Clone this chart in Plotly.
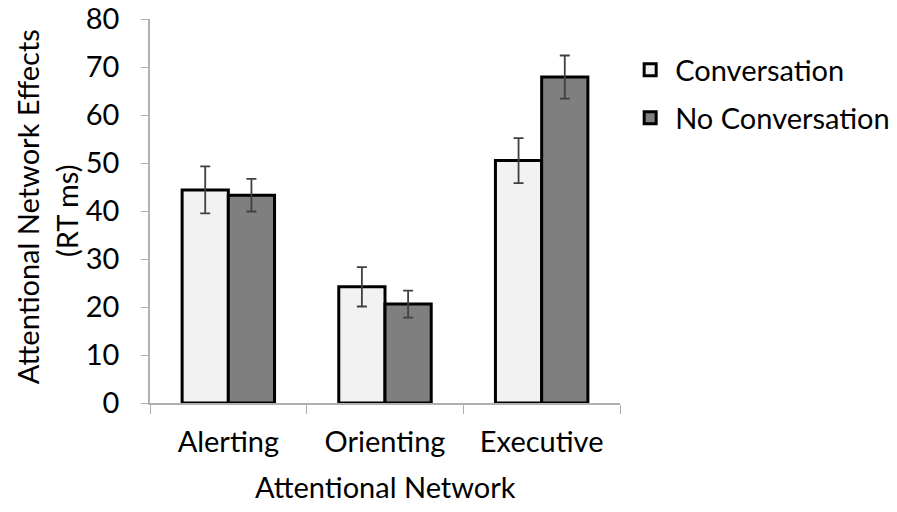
import plotly.graph_objects as go

categories = ["Alerting", "Orienting", "Executive"]
conv_values = [44.4, 24.2, 50.5]
conv_err = [4.9, 4.1, 4.7]
noconv_values = [43.3, 20.6, 67.9]
noconv_err = [3.4, 2.8, 4.5]
y_ticks = [0, 10, 20, 30, 40, 50, 60, 70, 80]

FONT = "Lato, 'Open Sans', sans-serif"
FS = 29
AXC = "#b0b0b0"
fig = go.Figure()
fig.add_trace(go.Bar(
    x=categories, y=conv_values, name="Conversation",
    marker=dict(color="#f2f2f2", line=dict(color="#000000", width=3)),
    error_y=dict(type="data", array=conv_err, color="#404040", thickness=1.8, width=5),
    legend="legend",
))
fig.add_trace(go.Bar(
    x=categories, y=noconv_values, name="No Conversation",
    marker=dict(color="#7f7f7f", line=dict(color="#000000", width=3)),
    error_y=dict(type="data", array=noconv_err, color="#404040", thickness=1.8, width=5),
    legend="legend2",
))

legend_common = dict(font=dict(family=FONT, size=FS, color="#000"), bgcolor="rgba(0,0,0,0)",
                     xanchor="left", yanchor="middle", borderwidth=0, visible=True,
                     itemwidth=40)
fig.update_layout(
    width=897, height=512,
    margin=dict(l=150, r=277, t=19, b=109, autoexpand=False),
    paper_bgcolor="white", plot_bgcolor="white",
    barmode="group", bargap=0.41, bargroupgap=0,
    showlegend=True,
    font=dict(family=FONT, size=FS, color="#000"),
    legend=dict(x=1.011, y=1 - 51 / 384, **legend_common),
    legend2=dict(x=1.011, y=1 - 99 / 384, **legend_common),
    xaxis=dict(
        showline=True, linecolor=AXC, linewidth=1.5, automargin=False,
        ticks="outside", tickson="boundaries", ticklen=9, tickcolor=AXC,
        tickfont=dict(size=FS), ticklabelstandoff=12,
    ),
    yaxis=dict(
        range=[0, 80], tickvals=y_ticks, automargin=False,
        showline=True, linecolor=AXC, linewidth=1.5,
        ticks="outside", ticklen=7, tickcolor=AXC, ticklabeloverflow="allow",
        showgrid=False, zeroline=False, tickfont=dict(size=FS), ticklabelstandoff=16,
    ),
    annotations=[
        dict(text="Attentional Network", x=0.5, xref="paper", y=-83 / 384, yref="paper",
             xanchor="center", yanchor="middle", showarrow=False, font=dict(size=FS)),
        dict(text="Attentional Network Effects", x=-123 / 470, xref="paper",
             y=0.51, yref="paper", xanchor="center", yanchor="middle", textangle=-90,
             showarrow=False, font=dict(size=FS)),
        dict(text="(RT ms)", x=-84 / 470, xref="paper",
             y=0.5, yref="paper", xanchor="center", yanchor="middle", textangle=-90,
             showarrow=False, font=dict(size=FS)),
    ],
)
fig.write_html("out.html", config={"displayModeBar": False},
               post_script="document.body.style.margin='0';")
